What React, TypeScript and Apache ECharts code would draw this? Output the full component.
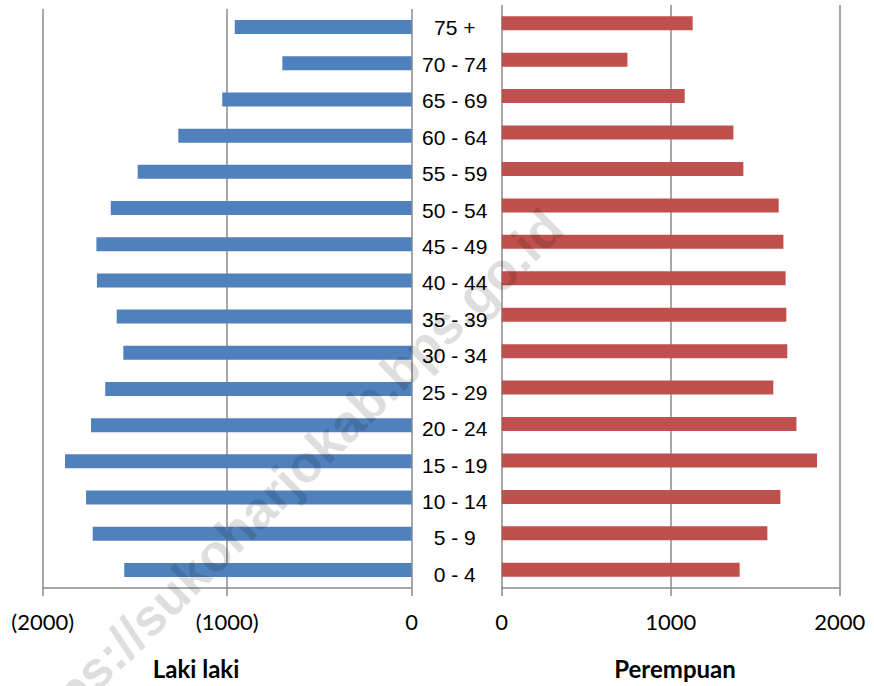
import React, { useEffect, useRef } from "react";
import * as echarts from "echarts";

const categories = ["0 - 4", "5 - 9", "10 - 14", "15 - 19", "20 - 24", "25 - 29", "30 - 34", "35 - 39", "40 - 44", "45 - 49", "50 - 54", "55 - 59", "60 - 64", "65 - 69", "70 - 74", "75 +"];
const male = [1558, 1729, 1765, 1879, 1738, 1661, 1563, 1599, 1706, 1709, 1631, 1485, 1265, 1027, 701, 959];
const female = [1408, 1572, 1649, 1866, 1744, 1607, 1690, 1684, 1680, 1667, 1639, 1430, 1371, 1083, 744, 1130];
const leftTitle = "Laki laki";
const rightTitle = "Perempuan";
const watermark = "https://sukoharjokab.bps.go.id";

const GRAY = "#8a8a8a";

export default function App() {
  const ref = useRef<HTMLDivElement>(null);
  useEffect(() => {
    if (!ref.current) return;
    const chart = echarts.init(ref.current, null, { renderer: "svg" });
    const xCommon = (gridIndex: number, min: number, max: number, fmt: (v: number) => string) => ({
      type: "value",
      gridIndex,
      min,
      max,
      interval: 1000,
      axisLine: { show: true, lineStyle: { color: GRAY, width: 1.5 } },
      axisTick: { show: true, length: 8, lineStyle: { color: GRAY, width: 1.5 } },
      splitLine: { show: true, lineStyle: { color: GRAY, width: 1.5 } },
      axisLabel: {
        formatter: fmt,
        fontFamily: "Lato",
        fontSize: 22,
        color: "#000",
        margin: 22,
      },
    });
    const option = {
      animation: false,
      backgroundColor: "#fff",
      grid: [
        { left: 42.7, right: 874 - 411.7, top: 9, height: 579 },
        { left: 501.7, right: 874 - 839.7, top: 5, height: 583 },
        { left: 501.7, right: 874 - 839.7, top: 9.6, height: 583 },
      ],
      xAxis: [
        xCommon(0, -2000, 0, (v: number) => (v === 0 ? "0" : `(${Math.abs(v)})`)),
        xCommon(1, 0, 2000, (v: number) => String(v)),
        { type: "value", gridIndex: 2, min: 0, max: 2000, show: false },
      ],
      yAxis: [
        {
          type: "category",
          gridIndex: 0,
          data: categories,
          axisLine: { show: false },
          axisTick: { show: false },
          axisLabel: { show: false },
          splitLine: { show: false },
        },
        {
          type: "category",
          gridIndex: 1,
          data: categories,
          axisLine: { show: false },
          axisTick: { show: false },
          axisLabel: { show: false },
          splitLine: { show: false },
        },
        {
          type: "category",
          gridIndex: 2,
          position: "left",
          data: categories,
          axisLine: { show: false },
          axisTick: { show: false },
          splitLine: { show: false },
          axisLabel: {
            show: true,
            align: "center",
            margin: 47,
            fontFamily: "Liberation Sans",
            fontSize: 21,
            color: "#000",
          },
        },
      ],
      series: [
        {
          type: "bar",
          xAxisIndex: 0,
          yAxisIndex: 0,
          data: male.map((v) => -v),
          barWidth: 14,
          itemStyle: { color: "#4F81BD" },
        },
        {
          type: "bar",
          xAxisIndex: 1,
          yAxisIndex: 1,
          data: female,
          barWidth: 14,
          itemStyle: { color: "#C0504D" },
        },
      ],
      graphic: [
        {
          type: "text",
          x: 196,
          y: 668,
          style: { text: leftTitle, fontFamily: "Lato", fontWeight: "bold", fontSize: 24, fill: "#000", align: "center", verticalAlign: "middle" },
        },
        {
          type: "text",
          x: 675,
          y: 668,
          style: { text: rightTitle, fontFamily: "Lato", fontWeight: "bold", fontSize: 24, fill: "#000", align: "center", verticalAlign: "middle" },
        },
        {
          type: "text",
          x: 284,
          y: 484,
          rotation: 0.777,
          z: 100,
          silent: true,
          style: {
            text: watermark,
            fontFamily: "Liberation Sans",
            fontWeight: "bold",
            fontSize: 52,
            fill: "rgba(0,0,0,0.13)",
            align: "center",
            verticalAlign: "middle",
          },
        },
      ],
    };
    chart.setOption(option as any);
    return () => chart.dispose();
  }, []);
  return <div ref={ref} style={{ position: "fixed", left: 0, top: 0, width: 874, height: 686 }} />;
}
